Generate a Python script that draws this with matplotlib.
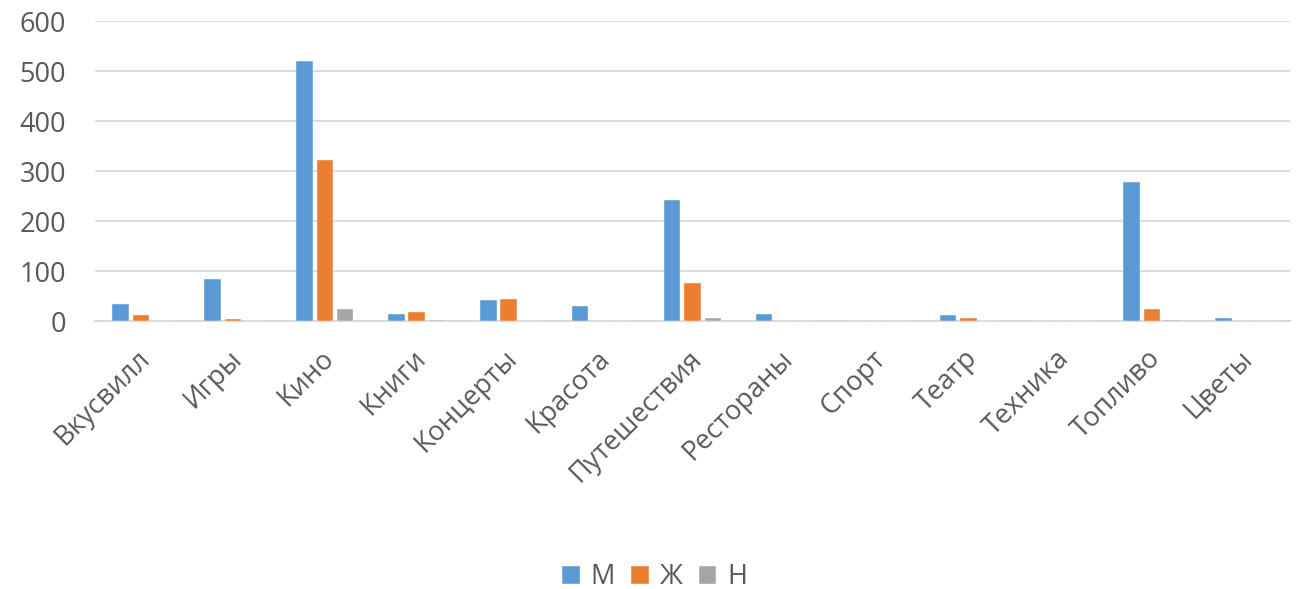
import numpy as np
import matplotlib.pyplot as plt
import matplotlib.transforms as mtransforms

categories = ['Вкусвилл', 'Игры', 'Кино', 'Книги', 'Концерты', 'Красота', 'Путешествия',
              'Рестораны', 'Спорт', 'Театр', 'Техника', 'Топливо', 'Цветы']
m_vals = [35, 84, 520, 15, 43, 31, 243, 15, 0, 12, 0, 279, 6]
zh_vals = [13, 4, 322, 18, 45, 0, 76, 0, 0, 6, 0, 24, 0]
n_vals = [0, 0, 24, 2, 0, 0, 7, 0, 0, 0, 0, 2, 0]

series = [('М', m_vals, '#5B9BD5'), ('Ж', zh_vals, '#ED7D31'), ('Н', n_vals, '#A5A5A5')]

plt.rcParams['font.family'] = ['Open Sans', 'DejaVu Sans']

fig = plt.figure(figsize=(13.09, 5.89), dpi=100)
ax = fig.add_axes([95 / 1309, 1 - 321 / 589, 1195 / 1309, 300 / 589])

x = np.arange(len(categories))
width = 0.18
step = 0.222
for i, (name, vals, color) in enumerate(series):
    ax.bar(x + (i - 1) * step, vals, width, color=color, label=name,
           edgecolor='white', linewidth=0.3, zorder=3)

ax.set_xlim(-0.5, len(categories) - 0.5)
ax.set_ylim(0, 600)
ax.set_yticks(range(0, 601, 100))
ax.yaxis.grid(True, color='#d9d9d9', linewidth=1.3, zorder=0)
for s in ['top', 'right', 'left']:
    ax.spines[s].set_visible(False)
ax.spines['bottom'].set_color('#d9d9d9')
ax.spines['bottom'].set_linewidth(1.3)
ax.tick_params(length=0, colors='#595959', labelsize=19.5)
ax.tick_params(axis='y', pad=21)
ax.tick_params(axis='x', pad=17)
ax.set_xticks(x)
ax.set_xticklabels(categories, rotation=45, ha='right', rotation_mode='anchor')
shift = mtransforms.ScaledTranslation(-5 / 100, 0, fig.dpi_scale_trans)
for lbl in ax.get_xticklabels():
    lbl.set_transform(lbl.get_transform() + shift)

fig.legend(loc='lower center', ncol=3, frameon=False, fontsize=19.5, bbox_to_anchor=(0.5, -0.045),
           handlelength=0.65, handleheight=0.65, handletextpad=0.4, columnspacing=0.6,
           labelcolor='#595959')

fig.savefig('out.png', dpi=100)
